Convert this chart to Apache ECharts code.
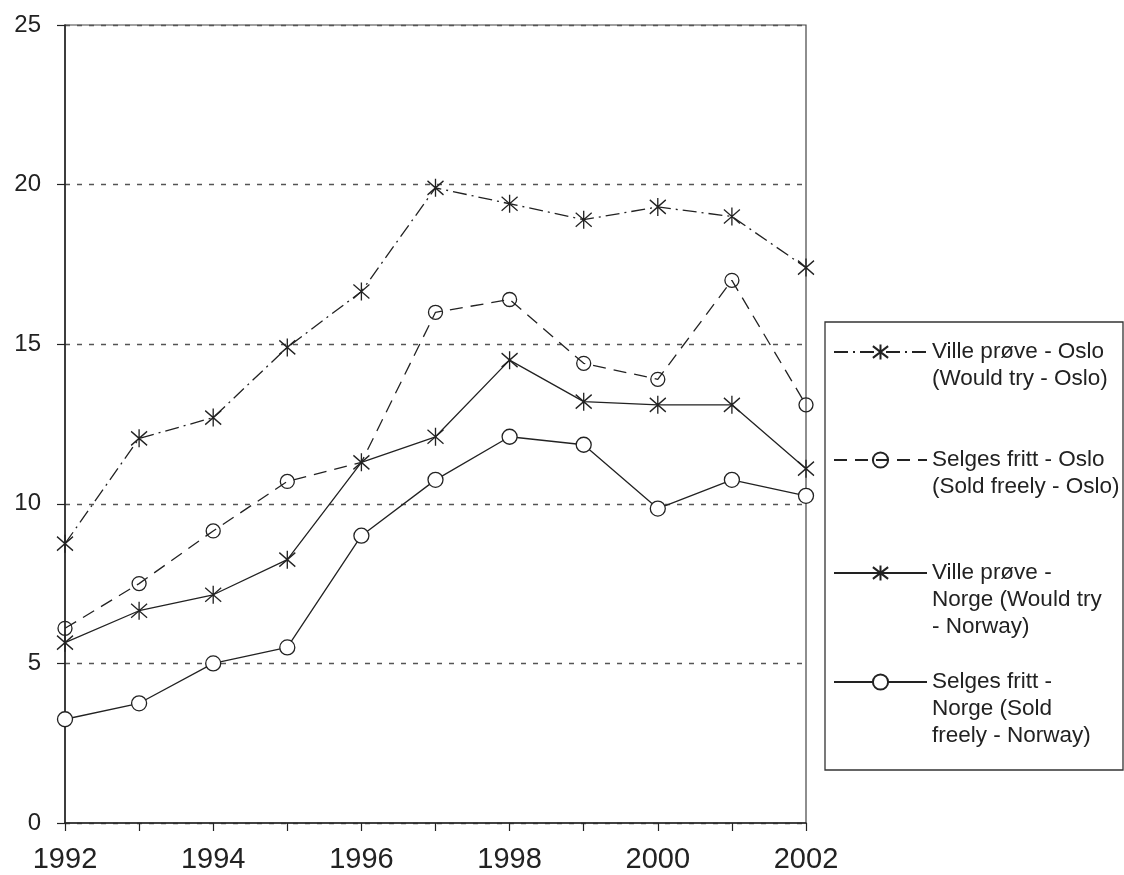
<!DOCTYPE html>
<html>
<head>
<meta charset="utf-8">
<script src="https://cdn.jsdelivr.net/npm/echarts@6/dist/echarts.min.js"></script>
<style>
  html, body { margin: 0; padding: 0; background: #fff; }
  #chart { width: 1124px; height: 875px; }
</style>
</head>
<body>
<div id="chart"></div>
<script>
// år
const years = ['1992', '1993', '1994', '1995', '1996', '1997', '1998', '1999', '2000', '2001', '2002'];

// prosent
const villeOslo = [8.75, 12.05, 12.7, 14.9, 16.65, 19.9, 19.4, 18.9, 19.3, 19.0, 17.4];
const selgesOslo = [6.1, 7.5, 9.15, 10.7, 11.3, 16.0, 16.4, 14.4, 13.9, 17.0, 13.1];
const villeNorge = [5.65, 6.65, 7.15, 8.25, 11.3, 12.1, 14.5, 13.2, 13.1, 13.1, 11.1];
const selgesNorge = [3.25, 3.75, 5.0, 5.5, 9.0, 10.75, 12.1, 11.85, 9.85, 10.75, 10.25];

// punkt uten sirkel (1996, Oslo)
const selgesOsloHidden = [4];

const seriesNames = ['villeOslo', 'selgesOslo', 'villeNorge', 'selgesNorge'];
const legendTexts = [
  '\nVille prøve - Oslo\n(Would try - Oslo)',
  '\nSelges fritt - Oslo\n(Sold freely - Oslo)',
  '\n\nVille prøve -\nNorge (Would try\n- Norway)',
  '\n\nSelges fritt -\nNorge (Sold\nfreely - Norway)'
];

const ink = '#222';
const font = 'Liberation Sans, Arial, sans-serif';
// stjerne: loddrett strek + to diagonaler
const star = 'path://M8 0 L8 18 M0 2 L16 16 M0 16 L16 2';

const chartDom = document.getElementById('chart');
const myChart = echarts.init(chartDom, null, { renderer: 'canvas' });

// en legende per serie, så første tekstlinje står ved symbolet
const lineH = 26.7;
const legendIconY = [352, 460, 573, 682];
const legends = seriesNames.map((name, i) => {
  const lines = legendTexts[i].split('\n').length;
  return {
    data: [name],
    left: 833,
    top: legendIconY[i] - (lines * lineH) / 2,
    orient: 'vertical',
    padding: 0,
    itemWidth: 93,
    itemHeight: 19,
    selectedMode: false,
    formatter: () => legendTexts[i],
    textStyle: { color: ink, fontFamily: font, fontSize: 22.5, lineHeight: lineH }
  };
});

const option = {
  animation: false,
  backgroundColor: '#fff',
  grid: {
    left: 65,
    right: 318,
    top: 25,
    bottom: 52,
    show: true,
    borderColor: '#444',
    borderWidth: 1.2
  },
  legend: legends,
  xAxis: {
    type: 'category',
    data: years,
    boundaryGap: false,
    axisLine: { lineStyle: { color: ink, width: 1.5 } },
    axisTick: { interval: 0, length: 8, lineStyle: { color: ink, width: 1.2 } },
    axisLabel: { interval: 1, color: ink, fontFamily: font, fontSize: 29, margin: 22 },
    splitLine: { show: false }
  },
  yAxis: {
    type: 'value',
    min: 0,
    max: 25,
    interval: 5,
    axisLine: { show: true, lineStyle: { color: ink, width: 1.5 } },
    axisTick: { show: true, length: 8, lineStyle: { color: ink, width: 1.2 } },
    axisLabel: { color: ink, fontFamily: font, fontSize: 24, margin: 24 },
    splitLine: { lineStyle: { color: '#555', width: 1.3, type: [5, 7] } }
  },
  graphic: [
    {
      type: 'rect',
      shape: { x: 825, y: 322, width: 298, height: 448 },
      style: { fill: 'none', stroke: '#333', lineWidth: 1.3 },
      silent: true
    }
  ],
  series: [
    {
      name: 'villeOslo',
      type: 'line',
      data: villeOslo,
      symbol: star,
      symbolSize: [16, 18],
      lineStyle: { color: ink, width: 1.3, type: [14, 5, 2, 5] },
      itemStyle: { color: 'none', borderColor: ink, borderWidth: 1.4 }
    },
    {
      name: 'selgesOslo',
      type: 'line',
      data: selgesOslo.map((v, i) => (selgesOsloHidden.indexOf(i) >= 0 ? { value: v, symbol: 'none' } : v)),
      symbol: 'circle',
      symbolSize: 14,
      lineStyle: { color: ink, width: 1.3, type: [13, 8] },
      itemStyle: { color: 'rgba(0,0,0,0)', borderColor: ink, borderWidth: 1.3 }
    },
    {
      name: 'villeNorge',
      type: 'line',
      data: villeNorge,
      symbol: star,
      symbolSize: [16, 18],
      lineStyle: { color: ink, width: 1.3, type: 'solid' },
      itemStyle: { color: 'none', borderColor: ink, borderWidth: 1.4 }
    },
    {
      name: 'selgesNorge',
      type: 'line',
      data: selgesNorge,
      symbol: 'circle',
      symbolSize: 15,
      lineStyle: { color: ink, width: 1.3, type: 'solid' },
      itemStyle: { color: '#fff', borderColor: ink, borderWidth: 1.3 }
    }
  ]
};

myChart.setOption(option);
</script>
</body>
</html>
